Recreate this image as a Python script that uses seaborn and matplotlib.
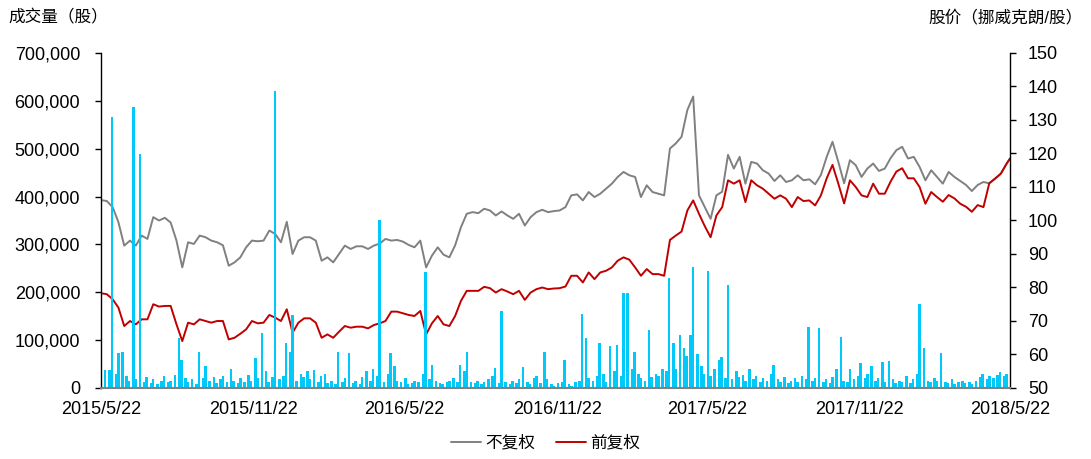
import pandas as pd
import matplotlib
matplotlib.use("Agg")
import matplotlib.pyplot as plt
from matplotlib.ticker import FuncFormatter, MultipleLocator
import seaborn as sns

start = "2015-05-22"
end = "2018-05-22"

# weekly closing prices (NOK/share), unadjusted
price_unadj = [
    106.1, 105.8, 104.0, 99.5, 92.5, 94.0, 92.5, 95.5, 94.5, 101.0,
    100.0, 100.8, 99.4, 94.0, 86.0, 93.5, 93.0, 95.5, 95.0, 94.0,
    93.5, 92.6, 86.5, 87.5, 89.0, 92.0, 94.0,
    93.8, 94.0, 97.0, 96.0, 93.5, 99.6, 90.0, 94.0, 95.0, 95.0,
    94.0, 88.0, 89.0, 87.5, 90.0, 92.5, 91.5, 92.3, 92.3, 91.5,
    92.5, 93.1, 94.5, 94.0, 94.2, 93.7,
    92.7, 92.0, 94.0, 86.0, 89.5, 92.0, 89.8, 89.0, 92.6, 98.0,
    102.0, 102.5, 102.2, 103.5, 103.0, 101.5, 102.7, 101.5, 100.5, 102.0,
    98.5, 101.0, 102.5, 103.2, 102.5, 102.8, 103.0,
    104.0, 107.5, 107.8, 106.0, 108.5, 107.0, 108.0, 109.5, 111.0, 113.0,
    114.5, 113.5, 113.0, 107.0, 110.5, 108.5, 108.0, 107.5, 121.5, 123.0,
    125.0, 133.0, 137.0, 107.5, 104.0, 100.5,
    107.5, 108.6, 119.6, 115.5, 119.0, 111.0, 117.5, 117.0, 115.0, 114.0,
    111.8, 113.5, 111.5, 112.0, 113.5, 112.0, 112.3, 110.8, 113.6, 119.0,
    123.5, 117.5, 111.1, 118.0, 116.5, 113.0,
    115.5, 117.0, 114.8, 115.5, 118.6, 121.0, 122.0, 118.5, 119.0, 116.0,
    112.0, 115.0, 113.0, 111.0, 114.5, 113.0, 111.8, 110.6, 108.8, 110.6,
    111.5, 111.1, 112.5, 114.0, 117.0,
    118.5,
]

# weekly closing prices (NOK/share), forward-adjusted
price_fwd = [
    78.3, 78.0, 76.5, 74.0, 68.5, 70.0, 69.0, 70.5, 70.5, 75.0,
    74.3, 74.5, 74.5, 69.0, 64.0, 69.5, 69.0, 70.5, 70.0, 69.5,
    70.0, 70.0, 64.5, 65.0, 66.2, 67.5, 70.0,
    69.3, 69.5, 71.8, 71.0, 70.0, 73.5, 66.5, 69.5, 70.8, 70.8,
    69.5, 65.0, 66.0, 65.0, 66.8, 68.5, 68.0, 68.3, 68.3, 67.8,
    68.8, 69.3, 70.0, 72.8, 72.8, 72.3,
    71.8, 71.5, 73.0, 66.0, 69.3, 71.5, 69.0, 68.5, 71.5, 76.0,
    79.0, 79.0, 79.0, 80.2, 79.8, 78.5, 79.5, 78.8, 78.0, 79.0,
    76.3, 78.5, 79.5, 80.0, 79.5, 79.7, 79.8,
    80.3, 83.5, 83.5, 81.5, 84.5, 82.5, 84.5, 85.0, 86.0, 88.0,
    89.0, 88.3, 86.0, 83.5, 85.5, 84.0, 84.0, 83.5, 94.2, 95.5,
    96.7, 103.0, 106.0, 102.0, 98.3, 95.0,
    101.5, 104.0, 112.0, 111.0, 112.0, 105.5, 112.0, 110.5, 109.5, 108.0,
    106.5, 107.5, 106.5, 104.0, 107.0, 105.8, 106.0, 104.5, 107.5, 112.6,
    116.6, 111.0, 105.1, 112.0, 110.0, 107.5,
    107.0, 111.0, 108.0, 108.0, 111.6, 114.6, 115.6, 112.6, 112.6, 110.0,
    105.0, 108.5, 107.0, 105.6, 107.6, 106.6, 105.0, 104.1, 102.6, 104.6,
    104.0, 111.1, 112.5, 114.0, 117.0,
    118.5,
]

# trading volume, thousands of shares (one value per 3 trading days)
volume_k = [
    20, 37, 37, 567, 30, 73, 75, 25, 15, 588,
    18, 490, 12, 22, 10, 18, 8, 14, 25, 12,
    15, 28, 105, 58, 20, 12, 18, 9, 75, 20,
    45, 15, 22, 10, 18, 25, 12, 40, 15, 10,
    20, 12, 28, 15, 62, 20, 115, 35, 12, 22,
    620, 18, 25, 94, 75, 152, 15, 30, 22, 35,
    18, 38, 12, 25, 30, 10, 15, 8, 75, 12,
    20, 73, 10, 15, 8, 22, 35, 15, 40, 25,
    351, 12, 30, 73, 45, 15, 12, 20, 8, 10,
    15, 12, 30, 243, 18, 48, 15, 10, 8, 12,
    15, 20, 12, 48, 35, 76, 12, 10, 15, 8,
    12, 18, 25, 42, 10, 160, 12, 8, 15, 10,
    18, 44, 12, 8, 20, 25, 10, 76, 18, 8,
    5, 10, 12, 58, 8, 5, 12, 15, 155, 104,
    20, 15, 25, 94, 30, 12, 87, 35, 90, 25,
    198, 198, 40, 76, 30, 20, 15, 121, 22, 30,
    25, 40, 35, 230, 94, 40, 111, 84, 67, 111,
    253, 71, 45, 30, 245, 25, 40, 58, 64, 20,
    215, 18, 35, 22, 28, 15, 40, 18, 25, 12,
    20, 15, 30, 48, 18, 12, 22, 10, 15, 20,
    12, 25, 18, 128, 15, 20, 125, 12, 18, 10,
    22, 40, 107, 15, 12, 40, 18, 25, 52, 20,
    30, 46, 15, 20, 55, 12, 56, 18, 10, 15,
    12, 25, 10, 18, 30, 175, 84, 15, 12, 20,
    15, 73, 12, 10, 18, 8, 12, 15, 10, 12,
    8, 15, 22, 30, 18, 25, 20, 28, 34, 25,
    30,
]

tick_dates = ["2015-05-22", "2015-11-22", "2016-05-22", "2016-11-22",
              "2017-05-22", "2017-11-22", "2018-05-22"]
tick_labels = ["2015/5/22", "2015/11/22", "2016/5/22", "2016/11/22",
               "2017/5/22", "2017/11/22", "2018/5/22"]

series_names = ["不复权", "前复权"]
left_title = "成交量（股）"
right_title = "股价（挪威克朗/股）"

price_dates = list(pd.date_range(start, periods=len(price_unadj) - 1, freq="7D")) + [pd.Timestamp(end)]
vol_dates = pd.bdate_range(start, end)[::3][:len(volume_k)]
volume = [v * 1000 for v in volume_k]

sns.set_theme(style="white")
plt.rcParams["font.family"] = ["Liberation Sans", "Noto Sans CJK SC", "DejaVu Sans"]
plt.rcParams["text.color"] = "black"
plt.rcParams["xtick.color"] = "black"
plt.rcParams["ytick.color"] = "black"

fig = plt.figure(figsize=(10.91, 4.59), dpi=100)
ax = fig.add_axes([101 / 1091, 71 / 459, 909 / 1091, 335 / 459])
ax2 = ax.twinx()

sns.lineplot(x=price_dates, y=price_unadj, ax=ax2, color="#808080", linewidth=1.4,
             label=series_names[0])
sns.lineplot(x=price_dates, y=price_fwd, ax=ax2, color="#C00000", linewidth=1.4,
             label=series_names[1])
ax.bar(vol_dates, volume, width=3.0, color="#00C8F8", linewidth=0)

ax.set_zorder(ax2.get_zorder() + 1)
ax.patch.set_visible(False)

ax.set_xlim(pd.Timestamp(start), pd.Timestamp(end))
ax.set_ylim(0, 700000)
ax2.set_ylim(50, 150)
ax.yaxis.set_major_locator(MultipleLocator(100000))
ax.yaxis.set_major_formatter(FuncFormatter(lambda v, p: f"{int(v):,}"))
ax2.yaxis.set_major_locator(MultipleLocator(10))
ax.set_xticks(pd.to_datetime(tick_dates))
ax.set_xticklabels(tick_labels)

for a in (ax, ax2):
    for s in a.spines.values():
        s.set_visible(False)
ax.spines["left"].set_visible(True)
ax.spines["left"].set_color("black")
ax.spines["left"].set_linewidth(1.0)
ax.spines["bottom"].set_visible(True)
ax.spines["bottom"].set_color("#808080")
ax.spines["bottom"].set_linewidth(1.5)
ax2.spines["right"].set_visible(True)
ax2.spines["right"].set_color("black")
ax2.spines["right"].set_linewidth(1.0)

ax.tick_params(axis="y", direction="out", length=4, width=1, pad=11, labelsize=13, left=True)
ax.tick_params(axis="x", length=0, pad=9, labelsize=13)
ax2.tick_params(axis="y", direction="out", length=4, width=1, pad=9, labelsize=13, right=True)
ax.set_xlabel("")
ax.set_ylabel("")
ax2.set_ylabel("")
ax.grid(False)
ax2.grid(False)

handles, labels = ax2.get_legend_handles_labels()
if ax2.get_legend() is not None:
    ax2.get_legend().remove()
fig.legend(handles, labels, loc="lower center", bbox_to_anchor=(0.5, -0.015), ncol=2,
           frameon=False, fontsize=12, handlelength=1.8, handletextpad=0.3,
           columnspacing=1.2)

fig.text(8 / 1091, 1 - 17 / 459, left_title, ha="left", va="center", fontsize=12)
fig.text(1083 / 1091, 1 - 17 / 459, right_title, ha="right", va="center", fontsize=12)

fig.savefig("out.png", dpi=100)
